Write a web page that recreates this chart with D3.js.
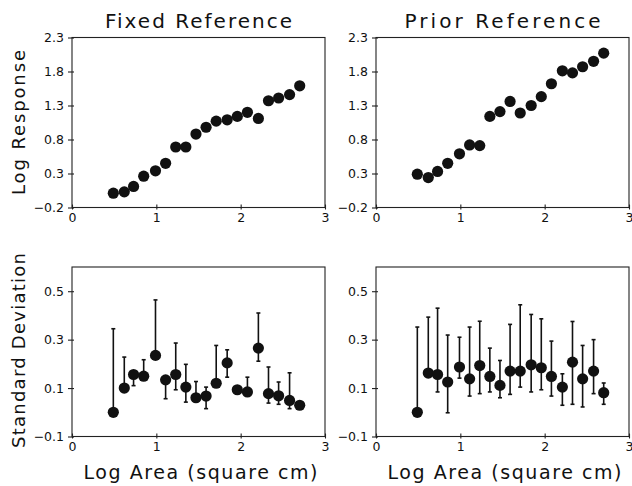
<!DOCTYPE html>
<html>
<head>
<meta charset="utf-8">
<script src="https://cdn.jsdelivr.net/npm/d3@7"></script>
<style>
  body { margin: 0; background: #fff; }
  svg text { font-family: "DejaVu Sans", sans-serif; fill: #111; }
</style>
</head>
<body>
<svg id="chart"></svg>
<script>
// log area (shared x positions)
var logArea = [0.49, 0.62, 0.73, 0.85, 0.99, 1.11, 1.23, 1.35, 1.47, 1.59,
               1.71, 1.84, 1.96, 2.08, 2.21, 2.33, 2.45, 2.58, 2.70];

// top panels: log response
var fixedResp = [0.01, 0.03, 0.11, 0.26, 0.34, 0.45, 0.69, 0.69, 0.88, 0.98,
                 1.07, 1.09, 1.14, 1.20, 1.11, 1.37, 1.41, 1.46, 1.59];
var priorResp = [0.29, 0.24, 0.33, 0.45, 0.59, 0.72, 0.71, 1.14, 1.21, 1.36,
                 1.19, 1.30, 1.43, 1.62, 1.81, 1.78, 1.87, 1.95, 2.07];

// bottom panels: standard deviation with error bar ends
var fixedSd   = [0.00, 0.10, 0.156, 0.149, 0.235, 0.134, 0.156, 0.104, 0.06, 0.067,
                 0.12, 0.204, 0.093, 0.084, 0.265, 0.077, 0.068, 0.049, 0.029];
var fixedHi   = [0.345, 0.228, 0.156, 0.217, 0.464, 0.134, 0.286, 0.198, 0.127, 0.104,
                 0.276, 0.258, 0.093, 0.145, 0.41, 0.187, 0.125, 0.163, 0.029];
var fixedLo   = [0.00, 0.10, 0.11, 0.149, 0.235, 0.056, 0.093, 0.042, 0.06, 0.015,
                 0.12, 0.145, 0.093, 0.084, 0.211, 0.038, 0.033, 0.015, 0.029];
var priorSd   = [0.00, 0.162, 0.156, 0.125, 0.187, 0.138, 0.193, 0.148, 0.111, 0.17,
                 0.17, 0.196, 0.184, 0.148, 0.104, 0.207, 0.138, 0.17, 0.081];
var priorHi   = [0.352, 0.393, 0.43, 0.319, 0.31, 0.352, 0.376, 0.265, 0.214, 0.363,
                 0.444, 0.404, 0.386, 0.294, 0.159, 0.375, 0.276, 0.30, 0.121];
var priorLo   = [0.00, 0.162, 0.084, -0.002, 0.141, 0.067, 0.077, 0.084, 0.06, 0.074,
                 0.104, 0.084, 0.093, 0.067, 0.029, 0.033, 0.022, 0.077, 0.033];

var xTicks = [0, 1, 2, 3];
var respTicks = [-0.2, 0.3, 0.8, 1.3, 1.8, 2.3];
var sdTicks = [-0.1, 0.1, 0.3, 0.5];
var titles = ["Fixed Reference", "Prior Reference"];

var W = 632, H = 486;
var svg = d3.select("#chart").attr("width", W).attr("height", H);

var cols = [[72, 325], [376, 629]];
var rows = [[207.5, 37.5], [436.5, 267]];

function panel(col, row, yDomain, yTicks, ys, lo, hi) {
  var x = d3.scaleLinear().domain([0, 3]).range(cols[col]);
  var y = d3.scaleLinear().domain(yDomain).range(rows[row]);
  var g = svg.append("g");
  var fmt = function(d) {
    return d < 0 ? "\u2212" + d3.format(".1f")(-d) : d3.format(".1f")(d);
  };

  // frame
  g.append("rect")
    .attr("x", cols[col][0]).attr("y", rows[row][1])
    .attr("width", cols[col][1] - cols[col][0])
    .attr("height", rows[row][0] - rows[row][1])
    .attr("fill", "none").attr("stroke", "#222").attr("stroke-width", 1.1);

  var xa = g.append("g").attr("transform", "translate(0," + rows[row][0] + ")")
    .call(d3.axisBottom(x).tickValues(xTicks).tickSize(2).tickPadding(4)
      .tickFormat(d3.format("d")));
  xa.selectAll(".tick line").attr("y1", -3);
  var ya = g.append("g").attr("transform", "translate(" + cols[col][0] + ",0)")
    .call(d3.axisLeft(y).tickValues(yTicks).tickSize(4).tickPadding(4)
      .tickFormat(fmt));
  ya.selectAll(".tick line").attr("x1", 2);
  [xa, ya].forEach(function(a) {
    a.select(".domain").remove();
    a.selectAll("line").attr("stroke", "#222").attr("stroke-width", 1.1);
    a.selectAll("text").style("font-size", "12.5px")
      .style("font-family", "'DejaVu Sans', sans-serif").attr("fill", "#111");
  });

  if (lo) {
    g.selectAll("line.bar").data(ys).enter().append("line")
      .attr("x1", function(d, i) { return x(logArea[i]); })
      .attr("x2", function(d, i) { return x(logArea[i]); })
      .attr("y1", function(d, i) { return y(lo[i]); })
      .attr("y2", function(d, i) { return y(hi[i]); })
      .attr("stroke", "#111").attr("stroke-width", 1.6);
    // caps
    var caps = [];
    ys.forEach(function(d, i) {
      if (hi[i] - d > 0.02) caps.push([logArea[i], hi[i]]);
      if (d - lo[i] > 0.02) caps.push([logArea[i], lo[i]]);
    });
    g.selectAll("line.cap").data(caps).enter().append("line")
      .attr("x1", function(d) { return x(d[0]) - 2; })
      .attr("x2", function(d) { return x(d[0]) + 2; })
      .attr("y1", function(d) { return y(d[1]); })
      .attr("y2", function(d) { return y(d[1]); })
      .attr("stroke", "#111").attr("stroke-width", 1.6);
  }

  g.selectAll("circle").data(ys).enter().append("circle")
    .attr("cx", function(d, i) { return x(logArea[i]); })
    .attr("cy", function(d) { return y(d); })
    .attr("r", 5.6).attr("fill", "#111");
}

panel(0, 0, [-0.2, 2.3], respTicks, fixedResp);
panel(1, 0, [-0.2, 2.3], respTicks, priorResp);
panel(0, 1, [-0.1, 0.6], sdTicks, fixedSd, fixedLo, fixedHi);
panel(1, 1, [-0.1, 0.6], sdTicks, priorSd, priorLo, priorHi);

svg.selectAll("text.title").data(titles).enter().append("text")
  .attr("x", function(d, i) { return (cols[i][0] + cols[i][1]) / 2; })
  .attr("y", 27.5).attr("text-anchor", "middle")
  .attr("textLength", function(d, i) { return i ? 196 : 187; })
  .attr("lengthAdjust", "spacing")
  .style("font-size", "20px")
  .text(function(d) { return d; });

svg.selectAll("text.xlab").data([0, 1]).enter().append("text")
  .attr("x", function(d) { return (cols[d][0] + cols[d][1]) / 2 + 2; })
  .attr("y", 479).attr("text-anchor", "middle")
  .attr("textLength", 234).attr("lengthAdjust", "spacing")
  .style("font-size", "19px")
  .text("Log Area (square cm)");

svg.selectAll("text.ylab").data([["Log Response", 122.5, 145], ["Standard Deviation", 350.5, 195]])
  .enter().append("text")
  .attr("transform", function(d) { return "translate(25," + d[1] + ") rotate(-90)"; })
  .attr("text-anchor", "middle")
  .attr("textLength", function(d) { return d[2]; }).attr("lengthAdjust", "spacing")
  .style("font-size", "18px")
  .text(function(d) { return d[0]; });
</script>
</body>
</html>
